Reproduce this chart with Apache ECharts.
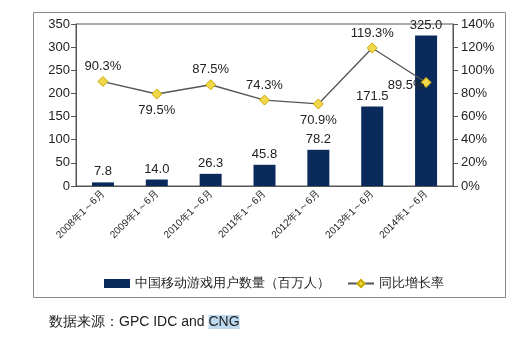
<!DOCTYPE html>
<html>
<head>
<meta charset="utf-8">
<script src="https://cdn.jsdelivr.net/npm/echarts@6/dist/echarts.min.js"></script>
<style>html,body{margin:0;padding:0;background:#fff;}#c{width:525px;height:337px;}</style>
</head>
<body>
<div id="c"></div>
<script>
var categories = ['2008年1～6月','2009年1～6月','2010年1～6月','2011年1～6月','2012年1～6月','2013年1～6月','2014年1～6月'];
var users = [7.8, 14.0, 26.3, 45.8, 78.2, 171.5, 325.0];
var growth = [90.3, 79.5, 87.5, 74.3, 70.9, 119.3, 89.5];
var leftTicks = {min: 0, max: 350, interval: 50};
var rightTicks = {min: 0, max: 140, interval: 20};

var labelPos = ['top','bottom','top','top','bottom','top','left'];
var lineData = growth.map(function (v, i) {
  var lp = {position: labelPos[i]};
  if (labelPos[i] === 'left') { lp.distance = -4; lp.offset = [0, 3]; }
  else if (labelPos[i] === 'bottom') { lp.distance = 4; }
  else { lp.distance = 3; }
  return {value: v, label: lp};
});

var font = 'Liberation Sans, Arial, sans-serif';
var chart = echarts.init(document.getElementById('c'));
chart.setOption({
  animation: false,
  textStyle: {fontFamily: font},
  grid: {left: 76, right: 72, top: 24, bottom: 151, show: true, borderColor: '#555', borderWidth: 1},
  graphic: [
    {type: 'rect', shape: {x: 33.5, y: 12.5, width: 472, height: 285}, style: {fill: 'none', stroke: '#8a8a8a', lineWidth: 1}, z: -1},
    {type: 'text', x: 49, y: 315, style: {
      text: '数据来源：GPC IDC and {h|CNG}',
      rich: {h: {backgroundColor: '#bcd9ef', fontSize: 14, fontFamily: font, fill: '#222'}},
      fontSize: 14, fontFamily: font, fill: '#222'
    }}
  ],
  legend: {
    left: 99, top: 272, itemWidth: 26, itemHeight: 9, itemGap: 17,
    textStyle: {fontSize: 13, color: '#222', fontFamily: font},
    data: [
      {name: '中国移动游戏用户数量（百万人）', icon: 'rect', itemStyle: {}},
      {name: '同比增长率'}
    ]
  },
  xAxis: {
    type: 'category', data: categories,
    axisLine: {lineStyle: {color: '#555'}},
    axisTick: {lineStyle: {color: '#555'}, length: 5},
    axisLabel: {rotate: 45, fontSize: 10, color: '#222', margin: 6, interval: 0}
  },
  yAxis: [
    {type: 'value', min: leftTicks.min, max: leftTicks.max, interval: leftTicks.interval,
     splitLine: {show: false},
     axisLine: {show: true, lineStyle: {color: '#555'}},
     axisTick: {show: true, length: 5, lineStyle: {color: '#555'}},
     axisLabel: {fontSize: 13, color: '#222', margin: 6}},
    {type: 'value', min: rightTicks.min, max: rightTicks.max, interval: rightTicks.interval,
     splitLine: {show: false},
     axisLine: {show: true, lineStyle: {color: '#555'}},
     axisTick: {show: true, length: 5, lineStyle: {color: '#555'}},
     axisLabel: {fontSize: 13, color: '#222', margin: 8, formatter: '{value}%'}}
  ],
  series: [
    {name: '中国移动游戏用户数量（百万人）', type: 'bar', data: users, barWidth: 22, yAxisIndex: 0,
     itemStyle: {color: '#0b2a5c'},
     label: {show: true, position: 'top', distance: 4, fontSize: 13, color: '#222',
             formatter: function (p) { return p.value.toFixed(1); }}},
    {name: '同比增长率', type: 'line', data: lineData, yAxisIndex: 1,
     symbol: 'diamond', symbolSize: 10,
     lineStyle: {color: '#555', width: 1.3},
     itemStyle: {color: '#f0d84a', borderColor: '#c9a800', borderWidth: 1},
     label: {show: true, fontSize: 13, color: '#222',
             formatter: function (p) { return p.value.toFixed(1) + '%'; }},
     z: 3}
  ]
});
</script>
</body>
</html>
